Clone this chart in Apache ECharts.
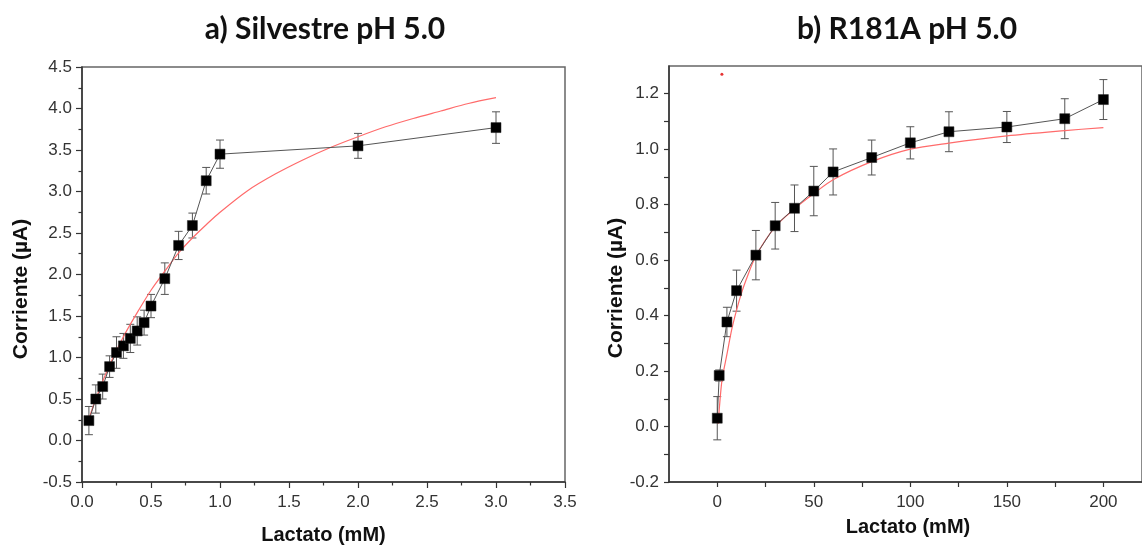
<!DOCTYPE html>
<html><head><meta charset="utf-8">
<script src="https://cdn.jsdelivr.net/npm/echarts@6/dist/echarts.min.js"></script>
<style>html,body{margin:0;padding:0;background:#fff}#c{width:1142px;height:548px}</style>
</head><body><div id="c"></div>
<script>
// ---------- Panel a) Silvestre pH 5.0 ----------
const lactA = [0.05, 0.1, 0.15, 0.2, 0.25, 0.3, 0.35, 0.4, 0.45, 0.5, 0.6, 0.7, 0.8, 0.9, 1.0, 2.0, 3.0];
const corrA = [0.24, 0.50, 0.65, 0.89, 1.06, 1.14, 1.23, 1.32, 1.42, 1.62, 1.95, 2.35, 2.59, 3.13, 3.45, 3.55, 3.77];
const errA  = [0.17, 0.17, 0.15, 0.13, 0.19, 0.15, 0.17, 0.17, 0.15, 0.14, 0.19, 0.17, 0.15, 0.16, 0.17, 0.15, 0.19];
const fitXA = [0.05, 0.1, 0.2, 0.3, 0.4, 0.5, 0.6, 0.7, 0.8, 0.9, 1.0, 1.2, 1.4, 1.6, 1.8, 2.0, 2.2, 2.4, 2.6, 2.8, 3.0];
const fitYA = [0.26, 0.50, 0.91, 1.25, 1.54, 1.81, 2.04, 2.26, 2.44, 2.60, 2.75, 3.01, 3.21, 3.38, 3.53, 3.66, 3.78, 3.88, 3.97, 4.06, 4.13];

// ---------- Panel b) R181A pH 5.0 ----------
const lactB = [0, 1, 5, 10, 20, 30, 40, 50, 60, 80, 100, 120, 150, 180, 200];
const corrB = [0.03, 0.184, 0.377, 0.49, 0.618, 0.724, 0.787, 0.849, 0.918, 0.970, 1.023, 1.063, 1.080, 1.110, 1.179];
const errB  = [0.078, 0.02, 0.053, 0.074, 0.089, 0.084, 0.084, 0.089, 0.083, 0.063, 0.058, 0.072, 0.056, 0.072, 0.072];
const fitXB = [0.5, 1, 2.5, 5, 7.5, 10, 12.5, 15, 20, 30, 40, 50, 60, 80, 100, 120, 150, 180, 200];
const fitYB = [0.01, 0.06, 0.17, 0.26, 0.35, 0.42, 0.48, 0.53, 0.615, 0.72, 0.785, 0.84, 0.89, 0.955, 1.0, 1.022, 1.048, 1.067, 1.078];
const strayB = [[2.4, 1.27]];

// axis ranges / tick values for panel b
const xRangeB = [-25, 220];
const yRangeB = [-0.2, 1.3];
const xTicksB = [0, 50, 100, 150, 200];
const xMinorB = [25, 75, 125, 175];
const yTicksB = [-0.2, 0, 0.2, 0.4, 0.6, 0.8, 1.0, 1.2];
const yMinorB = [-0.1, 0.1, 0.3, 0.5, 0.7, 0.9, 1.1];

const titles = ['a) Silvestre pH 5.0', 'b) R181A pH 5.0'];
const xName = 'Lactato (mM)';
const yName = 'Corriente (µA)';

const AX = '#333';
const TL = 3.5;
const lblStyle = {fontFamily: 'Liberation Sans', fontSize: 17, color: '#333'};
const pairs = (xs, ys) => xs.map((x, i) => [x, ys[i]]);
const errData = (xs, ys, es) => xs.map((x, i) => [x, ys[i] - es[i], ys[i] + es[i]]);
const allTicks = (a, b) => a.concat(b).sort((p, q) => p - q);

function errRender(params, api) {
  const x = api.value(0);
  const lo = api.coord([x, api.value(1)]);
  const hi = api.coord([x, api.value(2)]);
  const w = 4;
  const st = {stroke: '#555', lineWidth: 1, fill: null};
  return {type: 'group', children: [
    {type: 'line', shape: {x1: lo[0], y1: lo[1], x2: hi[0], y2: hi[1]}, style: st},
    {type: 'line', shape: {x1: lo[0] - w, y1: lo[1], x2: lo[0] + w, y2: lo[1]}, style: st},
    {type: 'line', shape: {x1: hi[0] - w, y1: hi[1], x2: hi[0] + w, y2: hi[1]}, style: st}
  ]};
}

const chart = echarts.init(document.getElementById('c'), null, {renderer: 'canvas'});
const baseAxis = {
  axisLine: {show: true, onZero: false, lineStyle: {color: AX, width: 1.5}},
  axisTick: {show: true, inside: false, length: 6, lineStyle: {color: AX, width: 1.2}},
  minorTick: {show: true, splitNumber: 2, length: TL, lineStyle: {color: AX, width: 1.2}},
  splitLine: {show: false}, minorSplitLine: {show: false}
};

const option = {
  animation: false,
  backgroundColor: '#fff',
  grid: [
    {left: 82, top: 67, width: 483, height: 415, show: true, borderColor: '#666', borderWidth: 1.5},
    {left: 669, top: 66, width: 475, height: 416, show: true, borderColor: '#666', borderWidth: 1.5}
  ],
  xAxis: [
    Object.assign({}, baseAxis, {type: 'value', gridIndex: 0, min: 0, max: 3.5, interval: 0.5, position: 'bottom',
      axisLabel: Object.assign({}, lblStyle, {margin: 12, formatter: v => v.toFixed(1)})}),
    Object.assign({}, baseAxis, {type: 'value', gridIndex: 1, min: xRangeB[0], max: xRangeB[1], position: 'bottom',
      minorTick: {show: false},
      axisTick: {show: true, inside: false, length: 5, customValues: allTicks(xTicksB, xMinorB),
        lineStyle: {color: AX, width: 1.2}},
      axisLabel: Object.assign({}, lblStyle, {margin: 12, customValues: xTicksB, formatter: v => String(v)})})
  ],
  yAxis: [
    Object.assign({}, baseAxis, {type: 'value', gridIndex: 0, min: -0.5, max: 4.5, interval: 0.5, position: 'left',
      axisLabel: Object.assign({}, lblStyle, {margin: 10, formatter: v => v.toFixed(1)})}),
    Object.assign({}, baseAxis, {type: 'value', gridIndex: 1, min: yRangeB[0], max: yRangeB[1], position: 'left',
      minorTick: {show: false},
      axisTick: {show: true, inside: false, length: 5, customValues: allTicks(yTicksB, yMinorB),
        lineStyle: {color: AX, width: 1.2}},
      axisLabel: Object.assign({}, lblStyle, {margin: 10, customValues: yTicksB, formatter: v => v.toFixed(1)})})
  ],
  series: [
    {type: 'custom', xAxisIndex: 0, yAxisIndex: 0, renderItem: errRender, data: errData(lactA, corrA, errA),
      encode: {x: 0, y: [1, 2]}, z: 2, silent: true},
    {type: 'line', xAxisIndex: 0, yAxisIndex: 0, data: pairs(fitXA, fitYA), smooth: 0.3,
      symbol: 'none', lineStyle: {color: '#ff6b6b', width: 1.2}, z: 3},
    {type: 'line', xAxisIndex: 0, yAxisIndex: 0, data: pairs(lactA, corrA), symbol: 'rect', symbolSize: 10,
      itemStyle: {color: '#000', borderColor: '#222', borderWidth: 0.5}, lineStyle: {color: '#555', width: 1}, z: 4},

    {type: 'custom', xAxisIndex: 1, yAxisIndex: 1, renderItem: errRender, data: errData(lactB, corrB, errB),
      encode: {x: 0, y: [1, 2]}, z: 2, silent: true},
    {type: 'line', xAxisIndex: 1, yAxisIndex: 1, data: pairs(fitXB, fitYB), smooth: 0.3,
      symbol: 'none', lineStyle: {color: '#ff6b6b', width: 1.2}, z: 3},
    {type: 'line', xAxisIndex: 1, yAxisIndex: 1, data: pairs(lactB, corrB), symbol: 'rect', symbolSize: 10,
      itemStyle: {color: '#000', borderColor: '#222', borderWidth: 0.5}, lineStyle: {color: '#555', width: 1}, z: 4},
    {type: 'scatter', xAxisIndex: 1, yAxisIndex: 1, data: strayB, symbol: 'circle', symbolSize: 3,
      itemStyle: {color: '#e00000'}, z: 5}
  ],
  graphic: [
    {type: 'text', x: 325, y: 29, style: {text: titles[0], align: 'center', verticalAlign: 'middle',
      font: 'bold 30px Lato', fill: '#111'}},
    {type: 'text', x: 907, y: 29, style: {text: titles[1], align: 'center', verticalAlign: 'middle',
      font: 'bold 30px Lato', fill: '#111'}},
    {type: 'text', x: 323.5, y: 535, style: {text: xName, align: 'center', verticalAlign: 'middle',
      font: 'bold 20px "Liberation Sans"', fill: '#111'}},
    {type: 'text', x: 908, y: 527, style: {text: xName, align: 'center', verticalAlign: 'middle',
      font: 'bold 20px "Liberation Sans"', fill: '#111'}},
    {type: 'text', x: 21, y: 289, rotation: Math.PI / 2, style: {text: yName, align: 'center', verticalAlign: 'middle',
      font: 'bold 21px "Liberation Sans"', fill: '#111'}},
    {type: 'text', x: 616, y: 288, rotation: Math.PI / 2, style: {text: yName, align: 'center', verticalAlign: 'middle',
      font: 'bold 21px "Liberation Sans"', fill: '#111'}}
  ]
};
chart.setOption(option);
</script>
</body></html>
